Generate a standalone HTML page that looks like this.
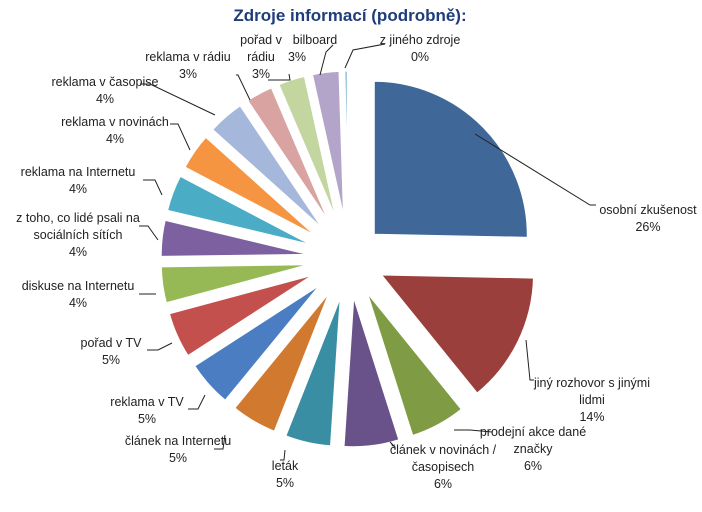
<!DOCTYPE html>
<html><head><meta charset="utf-8"><style>
html,body{margin:0;padding:0;background:#fff;}
svg{display:block;font-family:"Liberation Sans","DejaVu Sans",sans-serif;}
</style></head><body>
<svg id="s" width="702" height="512" viewBox="0 0 702 512" xmlns="http://www.w3.org/2000/svg">
<text x="350" y="21" text-anchor="middle" font-size="17" font-weight="bold" fill="#1F3D7A">Zdroje informací (podrobně):</text>
<g id="pie"></g>
<g id="lines" stroke="#222" stroke-width="1" fill="none"></g>
<g font-size="12.5" fill="#222" text-anchor="middle">
<text x="420" y="44">z jiného zdroje</text><text x="420" y="61">0%</text>
<text x="315" y="44">bilboard</text><text x="297" y="61">3%</text>
<text x="261" y="44">pořad v</text><text x="261" y="61">rádiu</text><text x="261" y="78">3%</text>
<text x="188" y="61">reklama v rádiu</text><text x="188" y="78">3%</text>
<text x="105" y="86">reklama v časopise</text><text x="105" y="103">4%</text>
<text x="115" y="126">reklama v novinách</text><text x="115" y="143">4%</text>
<text x="78" y="176">reklama na Internetu</text><text x="78" y="193">4%</text>
<text x="78" y="222">z toho, co lidé psali na</text><text x="78" y="239">sociálních sítích</text><text x="78" y="256">4%</text>
<text x="78" y="290">diskuse na Internetu</text><text x="78" y="307">4%</text>
<text x="111" y="347">pořad v TV</text><text x="111" y="364">5%</text>
<text x="147" y="406">reklama v TV</text><text x="147" y="423">5%</text>
<text x="178" y="445">článek na Internetu</text><text x="178" y="462">5%</text>
<text x="285" y="470">leták</text><text x="285" y="487">5%</text>
<text x="443" y="454">článek v novinách /</text><text x="443" y="471">časopisech</text><text x="443" y="488">6%</text>
<text x="533" y="436">prodejní akce dané</text><text x="533" y="453">značky</text><text x="533" y="470">6%</text>
<text x="592" y="387">jiný rozhovor s jinými</text><text x="592" y="404">lidmi</text><text x="592" y="421">14%</text>
<text x="648" y="214">osobní zkušenost</text><text x="648" y="231">26%</text>
</g>
</svg>
<script>
var cx=349,cy=259,R=155,D=34;
var d=[[25.6,'#3F6899'],[14,'#9B3F3D'],[6,'#7F9C45'],[6,'#69518A'],[5,'#3A8EA4'],[5,'#D0792F'],[5,'#4A7DC1'],[5,'#C4504D'],[4,'#96B955'],[4,'#7D60A0'],[4,'#4BACC6'],[4,'#F59542'],[4,'#A5B7DB'],[3,'#D9A3A2'],[3,'#C3D6A0'],[3,'#B3A5C9'],[0.5,'#9CC8DA']];
var tot=0;d.forEach(function(e){tot+=e[0];});
var a=0,g=document.getElementById('pie'),h='';
d.forEach(function(e){var s=a,t=a+e[0]/tot*2*Math.PI;a=t;var m=(s+t)/2;
var ox=cx+D*Math.sin(m),oy=cy-D*Math.cos(m);
var x1=ox+R*Math.sin(s),y1=oy-R*Math.cos(s),x2=ox+R*Math.sin(t),y2=oy-R*Math.cos(t);
h+='<path d="M'+ox+','+oy+'L'+x1+','+y1+'A'+R+','+R+' 0 '+((t-s)>Math.PI?1:0)+' 1 '+x2+','+y2+'Z" fill="'+e[1]+'" stroke="#fff" stroke-width="3" stroke-linejoin="round"/>';});
h+='<circle cx="336" cy="254" r="30" fill="#fff"/>';
g.innerHTML=h;
var L=[[[345,68],[353,50],[385,44]],[[333,45],[326,52],[320,75]],[[289,74],[290,80],[268,80]],[[236,75],[238,75],[250,100]],[[140,84],[150,84],[215,115]],[[170,124],[178,124],[190,150]],[[143,180],[155,180],[162,195]],[[139,226],[148,226],[158,240]],[[139,294],[156,294]],[[147,350],[158,350],[172,343]],[[188,409],[198,409],[205,395]],[[214,449],[223,449],[225,435]],[[280,460],[284,460],[285,450]],[[390,442],[395,447],[395,450]],[[454,430],[470,430],[492,432]],[[526,340],[530,380],[534,380]],[[475,134],[590,205],[596,205]]];
var lh='';L.forEach(function(p){lh+='<polyline points="'+p.map(function(q){return q.join(',')}).join(' ')+'"/>';});
document.getElementById('lines').innerHTML=lh;
</script>
</body></html>
